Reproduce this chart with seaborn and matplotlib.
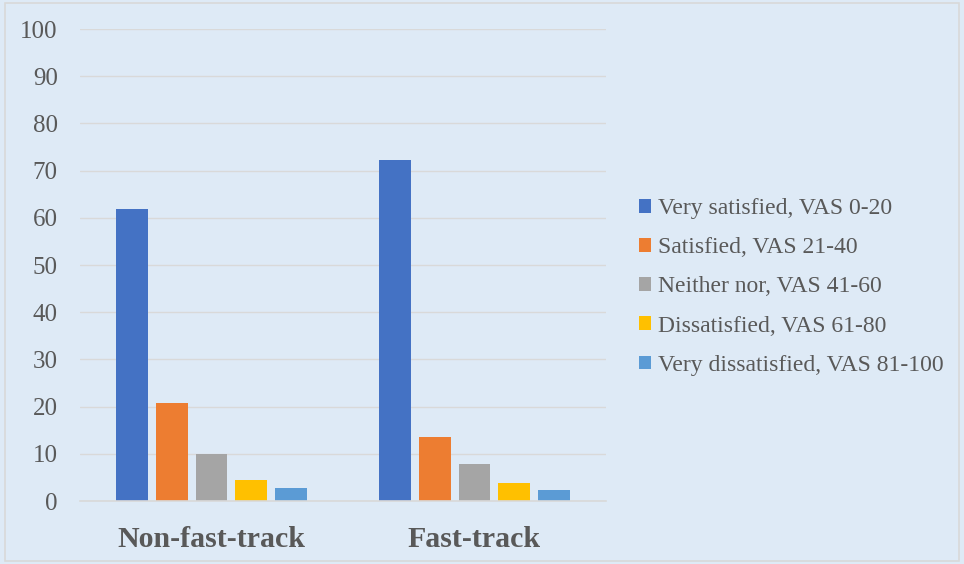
import matplotlib
matplotlib.use("Agg")
import matplotlib.pyplot as plt
from matplotlib.patches import Patch, Rectangle
import pandas as pd
import seaborn as sns

# Patient satisfaction (%) by VAS band, per triage pathway
groups = ["Non-fast-track", "Fast-track"]
levels = [
    "Very satisfied, VAS 0-20",
    "Satisfied, VAS 21-40",
    "Neither nor, VAS 41-60",
    "Dissatisfied, VAS 61-80",
    "Very dissatisfied, VAS 81-100",
]
non_fast_track = [61.8, 20.8, 10.0, 4.5, 2.7]
fast_track = [72.2, 13.5, 7.8, 3.8, 2.3]
y_ticks = [0, 10, 20, 30, 40, 50, 60, 70, 80, 90, 100]

colors = ["#4472C4", "#ED7D31", "#A5A5A5", "#FFC000", "#5B9BD5"]
bg = "#DEEAF6"
grid_c = "#D9D9D9"
text_c = "#595959"

rows = []
for g, vals in zip(groups, [non_fast_track, fast_track]):
    for lv, v in zip(levels, vals):
        rows.append({"group": g, "level": lv, "value": v})
df = pd.DataFrame(rows)

sns.set_theme(style="white")
plt.rcParams["font.family"] = ["Liberation Serif", "DejaVu Serif"]

W, H = 964, 564
fig = plt.figure(figsize=(W / 100, H / 100), dpi=100, facecolor=bg)
ax = fig.add_axes([80 / W, 1 - 501 / H, (606 - 80) / W, (501 - 29) / H])
ax.set_facecolor(bg)

sns.barplot(
    data=df, x="group", y="value", hue="level", hue_order=levels,
    order=groups, palette=colors, saturation=1, width=0.76, gap=0.2,
    linewidth=0, legend=False, ax=ax,
)

ax.set_xlim(-0.5, 1.5)
ax.set_ylim(0, 100)
ax.set_yticks(y_ticks)
ax.set_yticklabels([str(t) for t in y_ticks])
ax.yaxis.grid(True, color=grid_c, linewidth=1.0)
ax.set_axisbelow(True)
ax.set_xlabel("")
ax.set_ylabel("")

for side in ["left", "right", "top"]:
    ax.spines[side].set_visible(False)
ax.spines["bottom"].set_color(grid_c)
ax.spines["bottom"].set_linewidth(1.2)

ax.tick_params(axis="y", length=0, pad=16, labelsize=18, labelcolor=text_c)
ax.tick_params(axis="x", which="major", length=0, pad=18, labelsize=21.5,
               labelcolor=text_c)
for lab in ax.get_xticklabels():
    lab.set_fontweight("bold")

# category boundary ticks under the axis line
ax.set_xticks([-0.5, 0.5, 1.5], minor=True)
ax.tick_params(axis="x", which="minor", length=6, width=1.2, color=grid_c,
               direction="out")

handles = [Patch(facecolor=c, edgecolor="none", label=l)
           for c, l in zip(colors, levels)]
fig.legend(
    handles=handles, loc="center left", bbox_to_anchor=(639 / W, 1 - 287 / H),
    frameon=False, fontsize=17, labelcolor=text_c, handlelength=0.51,
    handleheight=0.51, handletextpad=0.3, labelspacing=0.77, borderpad=0,
    borderaxespad=0,
)

# chart area border
fig.patches.append(Rectangle((5 / W, 1 - 561 / H), 954 / W, 558 / H,
                             transform=fig.transFigure, fill=False,
                             edgecolor=grid_c, linewidth=1.2))

fig.savefig("out.png", dpi=100, facecolor=bg)
